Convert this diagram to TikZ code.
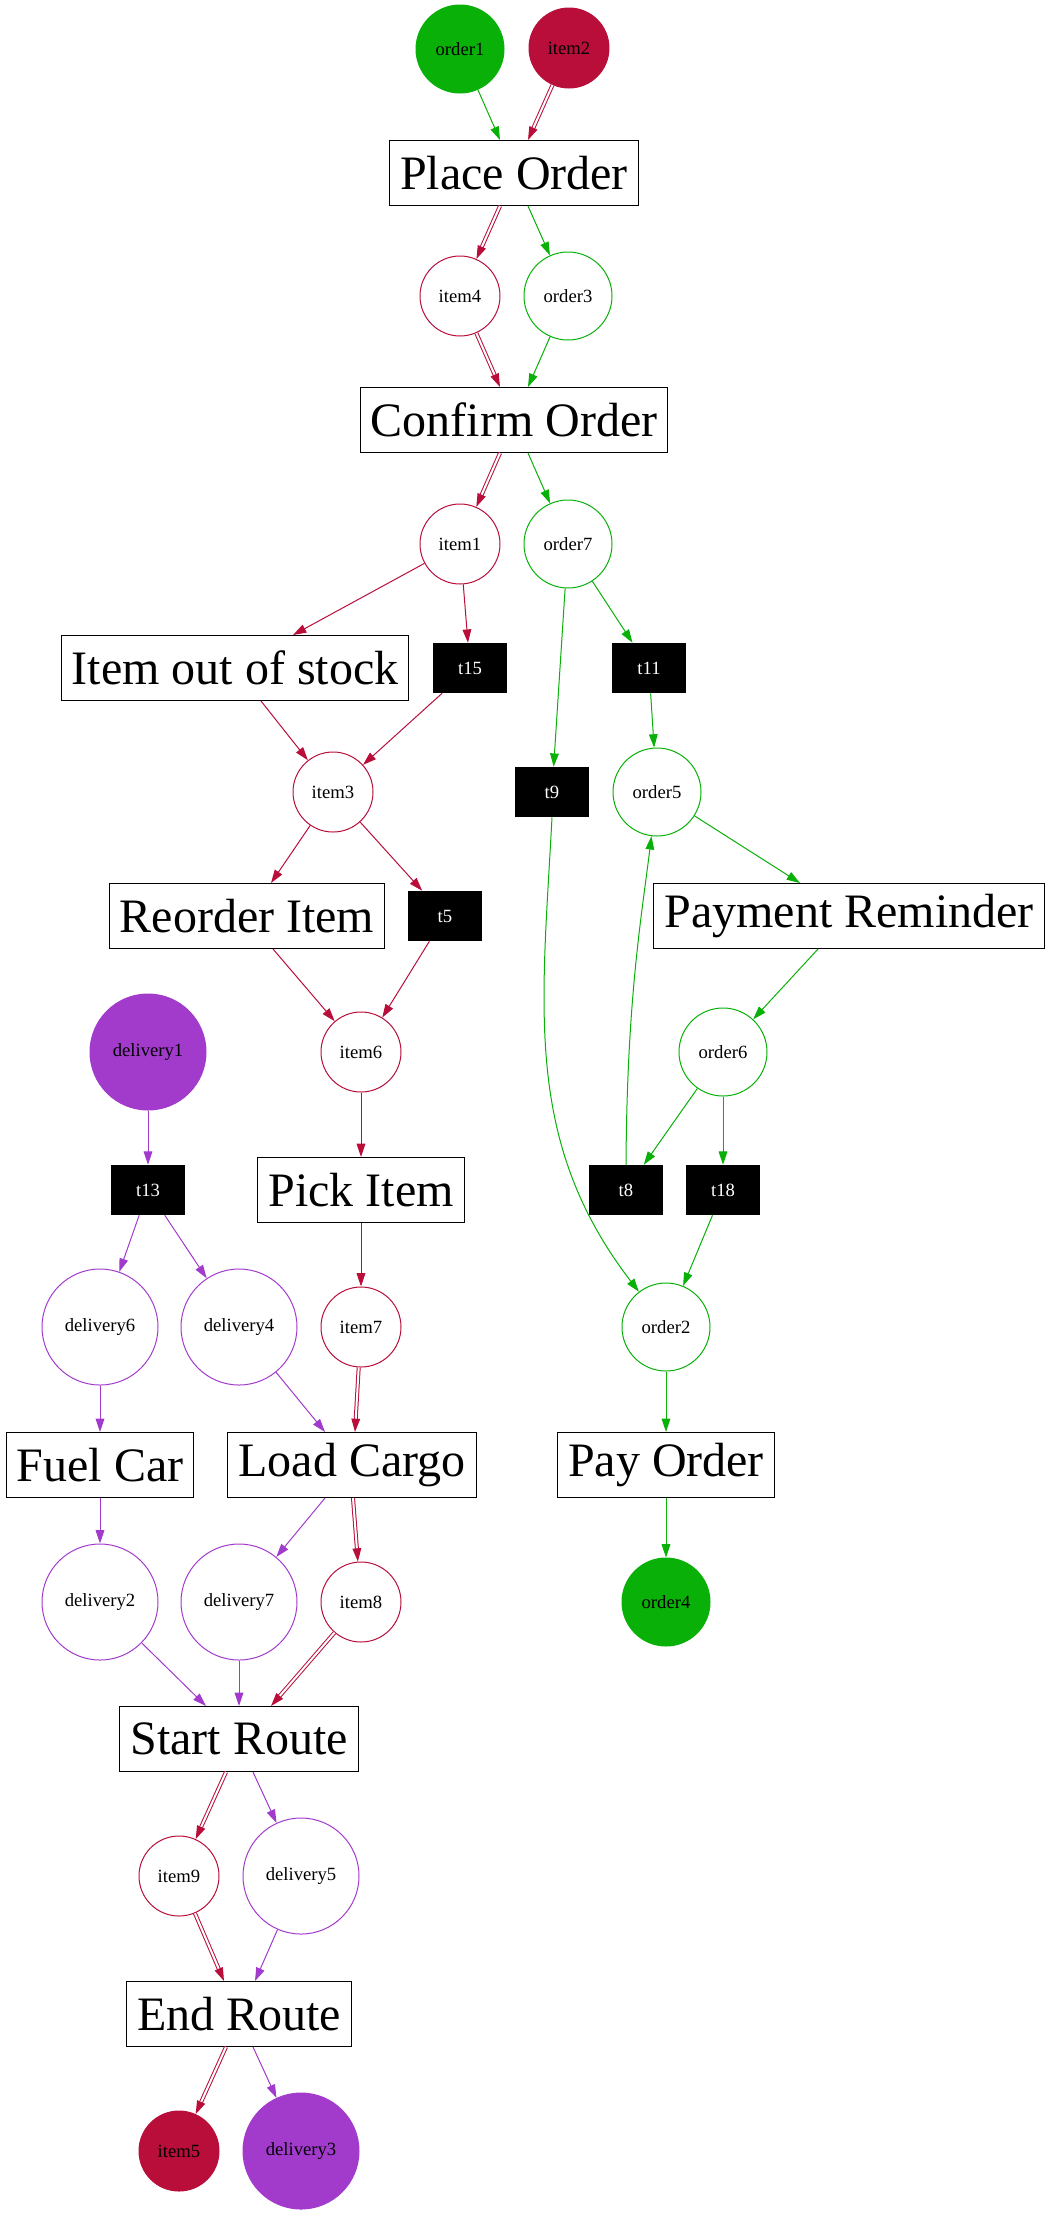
\documentclass[tikz,border=0pt]{standalone}
\usepackage{fontspec}
\setmainfont{Liberation Serif}
\usetikzlibrary{arrows.meta}

\definecolor{ordergreen}{RGB}{8,176,8}
\definecolor{itemred}{RGB}{185,14,58}
\definecolor{deliverypurple}{RGB}{162,59,204}

\tikzset{
  place/.style={circle, line width=0.75pt, inner sep=0pt, font=\fontsize{14}{16}\selectfont},
  itemplace/.style={place, draw=itemred, minimum size=60pt},
  orderplace/.style={place, draw=ordergreen, minimum size=66pt},
  deliveryplace/.style={place, draw=deliverypurple, minimum size=87pt},
  task/.style={rectangle, draw=black, line width=0.75pt, minimum height=48.75pt, inner xsep=8pt, font=\fontsize{36}{40}\selectfont},
  silent/.style={rectangle, fill=black, text=white, minimum width=55pt, minimum height=37.5pt, font=\fontsize{14}{16}\selectfont},
  flow/.style={line width=0.75pt, -{Triangle[length=10pt,width=6.5pt]}},
  orderflow/.style={flow, draw=ordergreen},
  deliveryflow/.style={flow, draw=deliverypurple},
  itemflow/.style={flow, draw=itemred, double=white, double distance=1.5pt}
}

\begin{document}
\begin{tikzpicture}[x=0.75pt, y=-0.75pt]
        \useasboundingbox (0,0) rectangle (1045,2214);

        % Places and transitions, order part
        \node[orderplace, fill=ordergreen] (order1) at (460,49) {order1};
        \node[itemplace, fill=itemred] (item2) at (569,48) {item2};
        \node[task] (place) at (514,173) {Place Order};
        \node[itemplace] (item4) at (460,296) {item4};
        \node[orderplace] (order3) at (568,296) {order3};
        \node[task] (confirm) at (514,420) {Confirm Order};
        \node[itemplace] (item1) at (460,544) {item1};
        \node[orderplace] (order7) at (568,544) {order7};
        \node[task] (stockout) at (235,668) {Item out of stock};
        \node[silent] (t15) at (470,668) {t15};
        \node[silent] (t11) at (649,668) {t11};
        \node[itemplace] (item3) at (333,792) {item3};
        \node[silent] (t9) at (552,792) {t9};
        \node[orderplace] (order5) at (657,792) {order5};
        \node[task] (reorder) at (247,916) {Reorder Item};
        \node[silent] (t5) at (445,916) {t5};
        \node[task] (reminder) at (849,916) {Payment Reminder};
        \node[deliveryplace, fill=deliverypurple] (delivery1) at (148,1052) {delivery1};
        \node[itemplace] (item6) at (361,1052) {item6};
        \node[orderplace] (order6) at (723,1052) {order6};
        \node[silent] (t13) at (148,1190) {t13};
        \node[task] (pick) at (361,1190) {Pick Item};
        \node[silent] (t8) at (626,1190) {t8};
        \node[silent] (t18) at (723,1190) {t18};
        \node[deliveryplace] (delivery6) at (100,1327) {delivery6};
        \node[deliveryplace] (delivery4) at (239,1327) {delivery4};
        \node[itemplace] (item7) at (361,1327) {item7};
        \node[orderplace] (order2) at (666,1327) {order2};
        \node[task] (fuel) at (100,1465) {Fuel Car};
        \node[task] (load) at (352,1465) {Load Cargo};
        \node[task] (pay) at (666,1465) {Pay Order};
        \node[deliveryplace] (delivery2) at (100,1602) {delivery2};
        \node[deliveryplace] (delivery7) at (239,1602) {delivery7};
        \node[itemplace] (item8) at (361,1602) {item8};
        \node[orderplace, fill=ordergreen] (order4) at (666,1602) {order4};
        \node[task] (startroute) at (239,1739) {Start Route};
        \node[itemplace] (item9) at (179,1876) {item9};
        \node[deliveryplace] (delivery5) at (301,1876) {delivery5};
        \node[task] (endroute) at (239,2014) {End Route};
        \node[itemplace, fill=itemred] (item5) at (179,2151) {item5};
        \node[deliveryplace, fill=deliverypurple] (delivery3) at (301,2151) {delivery3};

        % Order arcs
        \draw[orderflow] (order1) -- ([xshift=-10.5pt]place.north);
        \draw[orderflow] ([xshift=10.5pt]place.south) -- (order3);
        \draw[orderflow] (order3) -- ([xshift=10.5pt]confirm.north);
        \draw[orderflow] ([xshift=10.5pt]confirm.south) -- (order7);
        \draw[orderflow] (order7) -- (t9);
        \draw[orderflow] (order7) -- (t11);
        \draw[orderflow] (t11) -- (order5);
        \draw[orderflow] (order5) -- ([xshift=-36.75pt]reminder.north);
        \draw[orderflow] ([xshift=-23.25pt]reminder.south) -- (order6);
        \draw[orderflow] (order6) -- (t8);
        \draw[orderflow] (order6) -- (t18);
        \draw[orderflow] (t8.north) .. controls (627,1000) and (641,920) .. (order5);
        \draw[orderflow] (t9.south) .. controls (542,1008) and (523,1141) .. (order2);
        \draw[orderflow] (t18) -- (order2);
        \draw[orderflow] (order2) -- (pay);
        \draw[orderflow] (pay) -- (order4);

        % Item arcs
        \draw[itemflow] (item2) -- ([xshift=10.5pt]place.north);
        \draw[itemflow] ([xshift=-10.5pt]place.south) -- (item4);
        \draw[itemflow] (item4) -- ([xshift=-10.5pt]confirm.north);
        \draw[itemflow] ([xshift=-10.5pt]confirm.south) -- (item1);
        \draw[flow, draw=itemred] (item1) -- ([xshift=43.5pt]stockout.north);
        \draw[flow, draw=itemred] (item1) -- (t15);
        \draw[flow, draw=itemred] ([xshift=19.5pt]stockout.south) -- (item3);
        \draw[flow, draw=itemred] (t15) -- (item3);
        \draw[flow, draw=itemred] (item3) -- ([xshift=18pt]reorder.north);
        \draw[flow, draw=itemred] (item3) -- (t5);
        \draw[flow, draw=itemred] ([xshift=19.5pt]reorder.south) -- (item6);
        \draw[flow, draw=itemred] (t5) -- (item6);
        \draw[flow, draw=itemred] (item6) -- (pick);
        \draw[flow, draw=itemred] (pick) -- (item7);
        \draw[itemflow] (item7) -- ([xshift=2.25pt]load.north);
        \draw[itemflow] ([xshift=0.75pt]load.south) -- (item8);
        \draw[itemflow] (item8) -- ([xshift=24pt]startroute.north);
        \draw[itemflow] ([xshift=-9.75pt]startroute.south) -- (item9);
        \draw[itemflow] (item9) -- ([xshift=-11.25pt]endroute.north);
        \draw[itemflow] ([xshift=-9.75pt]endroute.south) -- (item5);

        % Delivery arcs
        \draw[deliveryflow] (delivery1) -- (t13);
        \draw[deliveryflow] (t13) -- (delivery6);
        \draw[deliveryflow] (t13) -- (delivery4);
        \draw[deliveryflow] (delivery6) -- (fuel);
        \draw[deliveryflow] (delivery4) -- ([xshift=-20.25pt]load.north);
        \draw[deliveryflow] (fuel) -- (delivery2);
        \draw[deliveryflow] ([xshift=-20.25pt]load.south) -- (delivery7);
        \draw[deliveryflow] (delivery2) -- ([xshift=-24.75pt]startroute.north);
        \draw[deliveryflow] (delivery7) -- (startroute);
        \draw[deliveryflow] ([xshift=10.5pt]startroute.south) -- (delivery5);
        \draw[deliveryflow] (delivery5) -- ([xshift=12pt]endroute.north);
        \draw[deliveryflow] ([xshift=10.5pt]endroute.south) -- (delivery3);
    \end{tikzpicture}
\end{document}
